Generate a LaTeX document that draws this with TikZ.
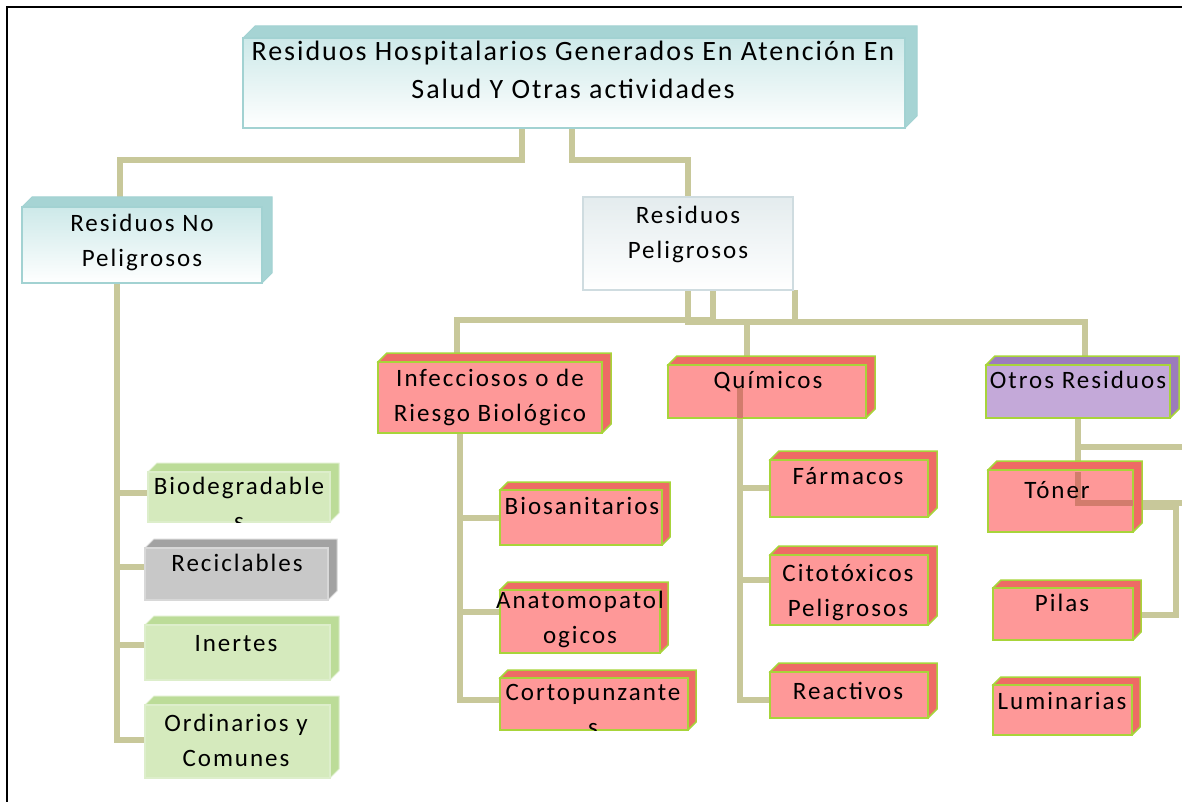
\documentclass[tikz,border=0pt]{standalone}
\usepackage{fontspec}
\setmainfont{Carlito}
\newfontfamily\bx[LetterSpace=8]{Carlito}
\newfontfamily\tx[LetterSpace=7]{Carlito}
\definecolor{conncol}{HTML}{C8C89A}
\definecolor{overcol}{HTML}{D27C6C}
\definecolor{tealside}{HTML}{A6D4D4}
\definecolor{tealtop}{HTML}{CDE9E9}
\definecolor{tealborder}{HTML}{A2D2D2}
\definecolor{pgtop}{HTML}{E4ECEE}
\definecolor{pgborder}{HTML}{CFDCE0}
\definecolor{redfront}{HTML}{FE9898}
\definecolor{redside}{HTML}{EE6B65}
\definecolor{greenborder}{HTML}{A8D43A}
\definecolor{purplefront}{HTML}{C4A9D9}
\definecolor{purpleside}{HTML}{9C7CBC}
\definecolor{lgfront}{HTML}{D5EABD}
\definecolor{lgside}{HTML}{BCDC98}
\definecolor{lgborder}{HTML}{DDEECB}
\definecolor{grayfront}{HTML}{C8C8C8}
\definecolor{grayside}{HTML}{A2A2A2}
\definecolor{grayborder}{HTML}{D8D8D8}
\newcommand{\cube}[7]{%
  \path[#7 side] (#2,#3) -- (#2+#6,#3-#6) -- (#4+#6,#3-#6) -- (#4+#6,#5-#6) -- (#4,#5) -- cycle;
  \node[#7 front, minimum width={#4-#2}, minimum height={#5-#3}, anchor=north west] (#1) at (#2,#3) {};
}
\begin{document}
\begin{tikzpicture}[x=1pt,y=-1pt,
  conn/.style={draw=conncol, line width=6pt},
  over/.style={draw=overcol, line width=6pt},
  lbl/.style={inner sep=0pt, align=center, anchor=north, font=\bx\fontsize{25}{35}\selectfont},
  ttl/.style={inner sep=0pt, align=center, anchor=north, font=\tx\fontsize{28}{38}\selectfont},
  box/.style={inner sep=0pt, outer sep=0pt, line width=1.5pt},
  teal front/.style={box, draw=tealborder, top color=tealtop, bottom color=white},
  teal side/.style={fill=tealside, draw=tealborder, line width=1pt},
  red front/.style={box, draw=greenborder, fill=redfront},
  red side/.style={fill=redside, draw=greenborder, line width=1.5pt},
  purple front/.style={box, draw=greenborder, fill=purplefront},
  purple side/.style={fill=purpleside, draw=greenborder, line width=1.5pt},
  lg front/.style={box, draw=lgborder, fill=lgfront},
  lg side/.style={fill=lgside, draw=lgborder, line width=1pt},
  gray front/.style={box, draw=grayborder, fill=grayfront},
  gray side/.style={fill=grayside, draw=grayborder, line width=1pt},
  flat/.style={box, draw=pgborder, line width=1.2pt, top color=pgtop, bottom color=white}
]
\useasboundingbox (0,0) rectangle (1182,802);
\fill[white] (0,0) rectangle (1182,802);
\draw[line width=2pt] (7,802) -- (7,7) -- (1182,7);

% connectors behind boxes
\draw[conn] (522,128) -- (522,160) -- (120,160) -- (120,200);
\draw[conn] (572,128) -- (572,160) -- (688,160) -- (688,197);
\draw[conn] (117,283) -- (117,740) -- (148,740);
\draw[conn] (117,493) -- (150,493);
\draw[conn] (117,567) -- (147,567);
\draw[conn] (117,645) -- (147,645);
\draw[conn] (688,290) -- (688,320);
\draw[conn] (713,290) -- (713,320);
\draw[conn] (795,290) -- (795,322);
\draw[conn] (457,354) -- (457,320) -- (716,320);
\draw[conn] (685,322) -- (1085,322) -- (1085,358);
\draw[conn] (747,322) -- (747,358);
\draw[conn] (460,433) -- (460,700) -- (502,700);
\draw[conn] (460,518) -- (502,518);
\draw[conn] (460,612) -- (502,612);
\draw[conn] (740,418) -- (740,700) -- (772,700);
\draw[conn] (740,488) -- (772,488);
\draw[conn] (740,580) -- (772,580);
\draw[conn] (1078,418) -- (1078,447) -- (1182,447);
\draw[conn] (1078,447) -- (1078,472);
\draw[conn] (1130,503) -- (1182,503);
\draw[conn] (1130,507) -- (1176,507) -- (1176,615) -- (1128,615);

% boxes
\cube{top}{243}{38}{905}{128}{12}{teal}
\cube{nop}{22}{207}{262}{283}{10}{teal}
\node[flat, minimum width=210, minimum height=93, anchor=north west] (pel) at (583,197) {};
\cube{inf}{378}{362}{602}{433}{9}{red}
\cube{qui}{668}{365}{866}{418}{9}{red}
\cube{otr}{986}{365}{1170}{418}{9}{purple}
\cube{bio}{148}{472}{330}{522}{9}{lg}
\cube{rec}{145}{548}{328}{600}{9}{gray}
\cube{ine}{145}{625}{330}{680}{9}{lg}
\cube{ord}{145}{705}{330}{778}{9}{lg}
\cube{bsa}{500}{490}{662}{545}{8}{red}
\cube{ana}{500}{590}{660}{653}{8}{red}
\cube{cor}{500}{678}{688}{730}{8}{red}
\cube{far}{770}{460}{928}{517}{9}{red}
\cube{cit}{770}{555}{928}{625}{9}{red}
\cube{rea}{770}{672}{928}{718}{9}{red}
\cube{ton}{988}{470}{1133}{532}{9}{red}
\cube{pil}{993}{588}{1133}{640}{8}{red}
\cube{lum}{993}{685}{1132}{735}{8}{red}

% connectors over boxes
\draw[over] (740,388) -- (740,418);
\draw[over] (1078,472) -- (1078,503) -- (1133,503);

% texts
\node[ttl] (top-t) at (573,41) {Residuos Hospitalarios Generados En Atención En\\Salud Y Otras actividades};
\node[lbl] (nop-t) at (142,214) {Residuos No\\Peligrosos};
\node[lbl] (pel-t) at (688,206) {Residuos\\Peligrosos};
\node[lbl] (inf-t) at (490,369) {Infecciosos o de\\Riesgo Biológico};
\node[lbl] (qui-t) at (768,371) {Químicos};
\node[lbl] (otr-t) at (1078,371) {Otros Residuos};
\begin{scope}
\clip (bio.north west) rectangle (bio.south east);
\node[lbl] (bio-t) at (239,477) {Biodegradable\\s};
\end{scope}
\node[lbl] (rec-t) at (237,554) {Reciclables};
\node[lbl] (ine-t) at (236,635) {Inertes};
\node[lbl] (ord-t) at (236,714) {Ordinarios y\\Comunes};
\node[lbl] (bsa-t) at (582,497) {Biosanitarios};
\node[lbl] (ana-t) at (580,591) {Anatomopatol\\ogicos};
\begin{scope}
\clip (cor.north west) rectangle (cor.south east);
\node[lbl] (cor-t) at (593,684) {Cortopunzante\\s};
\end{scope}
\node[lbl] (far-t) at (848,467) {Fármacos};
\node[lbl] (cit-t) at (848,564) {Citotóxicos\\Peligrosos};
\node[lbl] (rea-t) at (848,682) {Reactivos};
\node[lbl] (ton-t) at (1057,481) {Tóner};
\node[lbl] (pil-t) at (1062,594) {Pilas};
\node[lbl] (lum-t) at (1062,692) {Luminarias};
\end{tikzpicture}
\end{document}
